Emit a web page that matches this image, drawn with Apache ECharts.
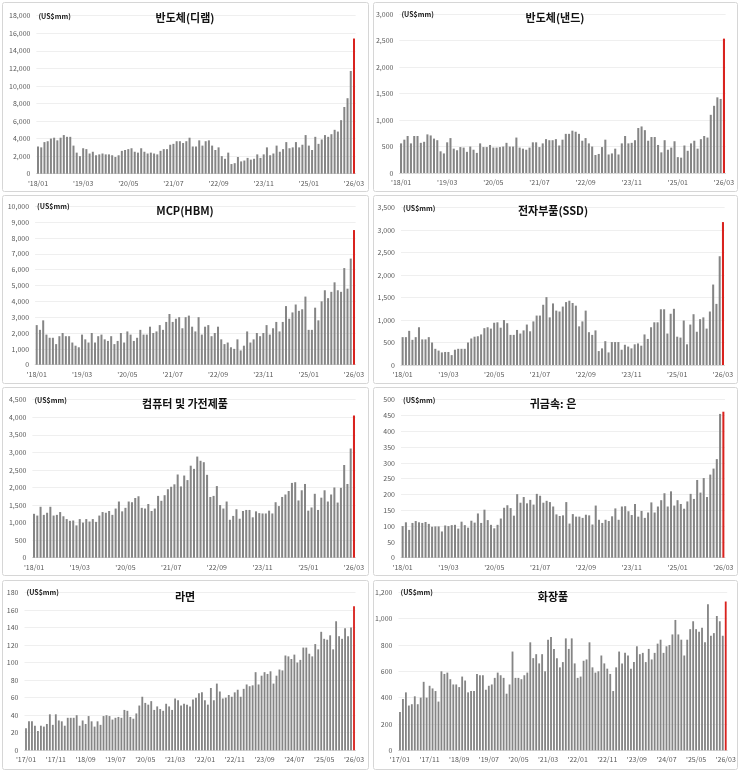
<!DOCTYPE html>
<html><head><meta charset="utf-8">
<script src="https://cdn.jsdelivr.net/npm/echarts@6/dist/echarts.min.js"></script>
<style>html,body{margin:0;padding:0;background:#fff}#c{width:740px;height:771px}</style>
</head><body><div id="c"></div>
<script>
function monthLabels(y0, m0, y1, m1) {
  const out = []; let y = y0, m = m0;
  while (y < y1 || (y === y1 && m <= m1)) {
    out.push("'" + String(y % 100).padStart(2, '0') + "/" + String(m).padStart(2, '0'));
    m++; if (m > 12) { m = 1; y++; }
  }
  return out;
}
const months2018 = monthLabels(2018, 1, 2026, 3);   // 99 months
const months2017 = monthLabels(2017, 1, 2026, 3);   // 111 months

const titles = ['반도체(디램)', '반도체(낸드)', 'MCP(HBM)', '전자부품(SSD)', '컴퓨터 및 가전제품', '귀금속: 은', '라면', '화장품'];
const unitLabel = '(US$mm)';

const dramVals = [3100,3000,3600,3700,4000,4100,3800,4100,4400,4200,
4200,3200,2400,2000,2900,2800,2300,2500,2100,2200,
2300,2200,2200,2100,1900,2100,2600,2700,2800,2900,
2500,2400,2900,2500,2300,2400,2300,2200,2600,2800,
2800,3300,3400,3700,3700,3500,3700,4100,3100,3100,
3800,3200,3700,3800,3200,2700,3000,2000,1700,2400,
1100,1200,1900,1400,1500,1800,1600,1700,2200,1800,
2200,3000,2100,2300,3200,2500,2800,3600,2900,3000,
3600,3000,3300,4400,3200,2700,4200,3400,3900,4400,
4200,4500,5000,4800,6100,7600,8600,11700,15400];

const nandVals = [560,630,700,560,700,700,570,590,730,710,
650,620,410,370,580,660,460,430,490,480,
400,500,440,380,560,490,490,530,480,480,
490,500,570,500,500,670,480,460,440,480,
580,580,490,560,640,620,620,640,520,630,
740,740,800,780,740,610,660,560,500,340,
360,490,630,350,370,460,350,560,700,560,
570,620,850,880,810,610,680,680,530,390,
620,440,480,600,300,290,520,420,560,610,
460,640,700,670,1100,1270,1430,1400,2540];

const hbmVals = [2500,2200,2800,1900,1700,1700,1300,1800,2000,1800,
1800,1400,1200,1100,1900,1600,1400,2000,1400,1800,
1900,1600,1500,1800,1300,1500,2000,1400,2100,1900,
1500,1700,2200,1900,1900,2400,2000,2100,2500,2200,
2700,3200,2700,2900,3000,2300,3000,3100,2400,2100,
3000,1900,2400,2500,1800,2000,2400,1600,1300,1400,
1100,1000,1600,900,1200,2100,1400,1600,2000,1800,
2000,2500,1900,2300,2700,2100,2700,3700,2900,3300,
3800,3400,3500,4300,2200,2200,3600,2800,4000,4700,
4200,4600,5200,4700,4600,6100,4800,6700,8500];

const ssdVals = [620,620,760,560,620,840,570,570,620,500,
360,320,280,290,290,220,340,360,360,360,
500,590,630,640,680,820,840,810,940,950,
830,1000,930,670,670,780,700,770,900,750,
970,1100,1100,1340,1510,1060,1370,1210,1190,1300,
1400,1430,1380,1320,860,970,1210,730,670,770,
310,370,530,280,510,510,510,340,450,410,
370,460,480,430,680,580,840,950,950,1240,
1240,700,1140,1250,630,610,990,460,900,1130,
740,1020,1060,810,1190,1790,1360,2420,3180];

const pcVals = [1250,1200,1450,1220,1280,1450,1200,1220,1300,1180,
1100,1050,1060,920,1100,1000,1100,1030,1100,1020,
1200,1300,1280,1330,1220,1400,1600,1320,1420,1600,
1580,1700,1750,1420,1400,1530,1330,1400,1760,1620,
1780,1950,2020,2090,2370,2030,2340,2210,2620,2530,
2880,2760,2720,2360,1730,1760,2040,1500,1400,1600,
1080,1190,1380,1110,1330,1360,1360,1150,1320,1270,
1260,1260,1340,1260,1580,1470,1730,1800,1900,2130,
2150,1630,1920,2100,1340,1430,1820,1360,1710,1920,
1600,1800,2000,1570,1990,2640,2100,3110,4050];

const silverVals = [100,112,88,110,116,112,110,113,107,98,
99,99,83,102,100,103,104,92,114,103,
95,117,111,140,110,152,119,104,93,104,
124,158,166,157,133,201,174,192,172,183,
168,202,196,174,180,176,162,137,132,134,
176,108,138,130,130,126,136,134,105,165,
120,110,120,116,131,156,120,162,163,147,
135,170,130,148,126,143,175,143,162,182,
204,162,210,165,182,170,155,178,202,186,
246,206,252,192,263,282,312,455,462];

const ramenVals = [25,33,33,28,22,28,27,30,41,29,
41,34,33,28,37,37,37,40,28,34,
30,39,33,27,33,29,39,40,39,35,
37,38,37,46,45,38,36,42,51,61,
54,52,56,46,50,47,45,53,50,46,
59,57,51,53,52,50,58,60,65,66,
57,52,71,57,76,67,59,60,63,61,
66,69,61,70,75,73,74,89,75,85,
89,87,90,76,85,92,91,108,107,104,
109,100,103,117,117,110,107,121,115,135,
127,126,131,115,147,130,127,139,130,140,164];

const cosmeticsVals = [290,390,440,340,350,410,350,400,520,400,
490,470,450,370,600,580,590,540,500,500,
480,560,530,440,450,450,580,570,570,460,
490,500,550,590,570,550,430,500,750,550,
550,540,570,590,820,700,730,660,730,600,
840,860,770,700,630,670,850,770,850,660,
550,560,680,690,820,630,590,600,720,660,
620,580,450,630,750,660,740,720,620,670,
790,730,740,670,770,690,740,810,840,740,
790,800,880,990,880,840,720,840,920,980,
920,900,930,820,1110,870,890,1020,980,870,1130];

const yMax = [18000, 3000, 10000, 3500, 4500, 500, 180, 1200];
const yStep = [2000, 500, 1000, 500, 500, 50, 20, 200];

const seriesData = [dramVals, nandVals, hbmVals, ssdVals, pcVals, silverVals, ramenVals, cosmeticsVals];
const seriesCats = [months2018, months2018, months2018, months2018, months2018, months2018, months2017, months2017];
const labelEvery = [13, 13, 13, 13, 13, 13, 9, 9];

// layout (pixels)
const boxes = [
  [2, 2, 366, 189], [373, 2, 364, 189],
  [2, 195, 366, 188], [373, 195, 364, 188],
  [2, 387, 366, 188], [373, 387, 364, 188],
  [2, 580, 366, 189], [373, 580, 364, 189]
];
const grids = [
  [36.4, 15.7, 319.2, 158], [399.4, 14.3, 326.2, 158.7],
  [35.1, 206.3, 320.5, 158.4], [401, 207.7, 323.6, 157.3],
  [32.4, 399.7, 323.2, 158], [401, 399.7, 324, 158],
  [24.5, 592.3, 331, 158], [398.5, 592.3, 328.7, 158]
];
const titlePos = [[185, 18.3], [555, 18], [185, 210.7], [553, 210.7], [185, 404], [553, 404], [185, 596.5], [553, 596.5]];

const FONT = "'Noto Sans CJK KR', 'Noto Sans', sans-serif";
const GREY = '#858585', RED = '#d9231f', TXT = '#595959';

const option = { animation: false, grid: [], xAxis: [], yAxis: [], series: [], graphic: [] };

for (let k = 0; k < 8; k++) {
  const g = grids[k];
  option.grid.push({ left: g[0], top: g[1], width: g[2], height: g[3] });
  option.xAxis.push({
    type: 'category', gridIndex: k, data: seriesCats[k],
    axisTick: { show: false },
    axisLine: { lineStyle: { color: '#d9d9d9' } },
    axisLabel: { interval: labelEvery[k], fontSize: 7, color: TXT, margin: 6, fontFamily: FONT }
  });
  option.yAxis.push({
    type: 'value', gridIndex: k, min: 0, max: yMax[k], interval: yStep[k],
    axisLine: { show: false }, axisTick: { show: false },
    splitLine: { lineStyle: { color: '#efefef', width: 1 } },
    axisLabel: { fontSize: 7, color: TXT, margin: 6, fontFamily: FONT,
      formatter: v => v.toLocaleString('en-US') }
  });
  const vals = seriesData[k];
  option.series.push({
    type: 'bar', xAxisIndex: k, yAxisIndex: k, barWidth: '62%',
    itemStyle: { color: GREY },
    data: vals.map((v, i) => i === vals.length - 1 ? { value: v, itemStyle: { color: RED } } : v)
  });
  const b = boxes[k];
  option.graphic.push({
    type: 'rect', silent: true, z: 100,
    shape: { x: b[0] + 0.5, y: b[1] + 0.5, width: b[2], height: b[3], r: 2 },
    style: { fill: 'none', stroke: '#d6d6d6', lineWidth: 1 }
  });
  option.graphic.push({
    type: 'text', silent: true, z: 100, x: titlePos[k][0], y: titlePos[k][1],
    style: { text: titles[k], font: "bold 11px " + FONT, fill: '#111',
      align: 'center', verticalAlign: 'middle', textAlign: 'center', textVerticalAlign: 'middle' }
  });
  option.graphic.push({
    type: 'text', silent: true, z: 100, x: g[0] + 2, y: g[1] + 0.5,
    style: { text: unitLabel, font: "bold 7px " + FONT, fill: '#222',
      align: 'left', verticalAlign: 'middle', textAlign: 'left', textVerticalAlign: 'middle' }
  });
}

const chart = echarts.init(document.getElementById('c'), null, { renderer: 'canvas' });
chart.setOption(option);
</script>
</body></html>
